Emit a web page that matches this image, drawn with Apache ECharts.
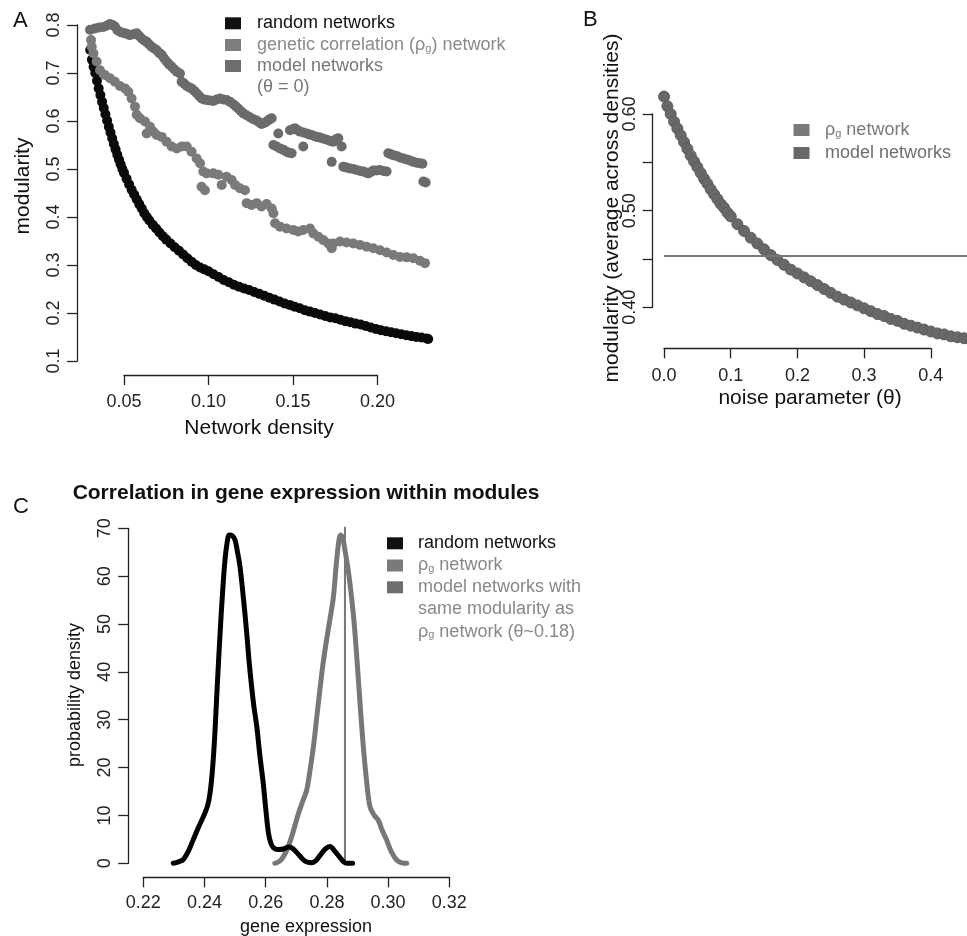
<!DOCTYPE html>
<html>
<head>
<meta charset="utf-8">
<script src="https://cdn.jsdelivr.net/npm/echarts@6/dist/echarts.min.js"></script>
<style>
html,body{margin:0;padding:0;background:#fff;}
#chart{width:967px;height:936px;}
</style>
</head>
<body>
<div id="chart"></div>
<script>
// ---------------- Panel A data (network density vs modularity) ----------------
const densityRandomA = [0.0300,0.0310,0.0320,0.0330,0.0340,0.0350,0.0360,0.0370,0.0380,0.0390,0.0400,0.0410,0.0420,0.0430,0.0440,0.0450,0.0460,0.0470,0.0480,0.0490,0.0500,0.0515,0.0530,0.0545,0.0560,0.0575,0.0590,0.0605,0.0620,0.0635,0.0650,0.0670,0.0690,0.0710,0.0730,0.0750,0.0775,0.0800,0.0825,0.0850,0.0875,0.0900,0.0925,0.0950,0.0975,0.1000,0.1030,0.1060,0.1090,0.1120,0.1150,0.1180,0.1210,0.1240,0.1270,0.1300,0.1330,0.1360,0.1390,0.1420,0.1450,0.1480,0.1510,0.1540,0.1570,0.1600,0.1630,0.1660,0.1690,0.1720,0.1750,0.1780,0.1810,0.1840,0.1870,0.1900,0.1930,0.1960,0.1990,0.2020,0.2050,0.2080,0.2110,0.2140,0.2170,0.2200,0.2230,0.2260,0.2290,0.2300];
const modularityRandomA = [0.748,0.728,0.713,0.700,0.684,0.668,0.654,0.640,0.627,0.614,0.601,0.588,0.576,0.564,0.552,0.541,0.530,0.520,0.510,0.500,0.492,0.480,0.468,0.457,0.447,0.437,0.427,0.418,0.408,0.400,0.393,0.384,0.376,0.368,0.360,0.353,0.345,0.337,0.330,0.322,0.314,0.307,0.300,0.295,0.291,0.287,0.281,0.275,0.269,0.264,0.259,0.255,0.251,0.248,0.244,0.240,0.236,0.232,0.228,0.224,0.220,0.217,0.213,0.210,0.206,0.203,0.200,0.197,0.194,0.191,0.189,0.186,0.183,0.181,0.178,0.176,0.173,0.170,0.167,0.164,0.162,0.160,0.158,0.156,0.154,0.152,0.150,0.149,0.147,0.146];

const densityRhoA = [0.0305,0.0309,0.0319,0.0338,0.0358,0.0387,0.0417,0.0446,0.0476,0.0506,0.0525,0.0545,0.0565,0.0575,0.0594,0.0624,0.0654,0.0634,0.0673,0.0693,0.0723,0.0752,0.0782,0.0812,0.0841,0.0871,0.0900,0.0930,0.0950,0.0969,0.0989,0.0959,0.0979,0.1028,0.1058,0.1078,0.1107,0.1137,0.1157,0.1186,0.1216,0.1226,0.1255,0.1285,0.1314,0.1344,0.1374,0.1384,0.1394,0.1423,0.1462,0.1502,0.1531,0.1561,0.1601,0.1620,0.1650,0.1679,0.1709,0.1729,0.1739,0.1778,0.1817,0.1857,0.1896,0.1936,0.1975,0.2015,0.2054,0.2094,0.2133,0.2173,0.2212,0.2251,0.2281];
const modularityRhoA = [0.769,0.755,0.741,0.724,0.706,0.696,0.689,0.682,0.673,0.668,0.661,0.647,0.630,0.613,0.606,0.599,0.588,0.574,0.578,0.571,0.567,0.557,0.547,0.543,0.547,0.547,0.536,0.522,0.512,0.495,0.491,0.463,0.456,0.491,0.488,0.467,0.484,0.477,0.467,0.460,0.456,0.429,0.425,0.429,0.422,0.427,0.418,0.408,0.387,0.380,0.376,0.373,0.370,0.373,0.376,0.366,0.359,0.352,0.345,0.335,0.345,0.349,0.347,0.345,0.342,0.338,0.335,0.331,0.326,0.321,0.317,0.316,0.314,0.309,0.304];

const densityModelA = [0.0299,0.0328,0.0353,0.0378,0.0400,0.0417,0.0432,0.0446,0.0461,0.0476,0.0491,0.0506,0.0521,0.0535,0.0555,0.0575,0.0590,0.0604,0.0619,0.0634,0.0648,0.0663,0.0678,0.0693,0.0708,0.0723,0.0737,0.0752,0.0767,0.0782,0.0797,0.0812,0.0831,0.0841,0.0856,0.0871,0.0886,0.0900,0.0915,0.0930,0.0945,0.0959,0.0974,0.0989,0.1008,0.1028,0.1048,0.1068,0.1087,0.1107,0.1127,0.1147,0.1161,0.1176,0.1191,0.1206,0.1225,0.1245,0.1265,0.1285,0.1300,0.1314,0.1329,0.1344,0.1359,0.1374,0.1413,0.1384,0.1403,0.1423,0.1443,0.1462,0.1477,0.1492,0.1482,0.1497,0.1512,0.1527,0.1541,0.1561,0.1581,0.1595,0.1610,0.1625,0.1640,0.1655,0.1670,0.1690,0.1709,0.1724,0.1739,0.1754,0.1768,0.1788,0.1561,0.1729,0.1798,0.1817,0.1837,0.1857,0.1877,0.1897,0.1916,0.1931,0.1946,0.1961,0.1975,0.1995,0.2015,0.2035,0.2054,0.2064,0.2079,0.2094,0.2113,0.2133,0.2153,0.2173,0.2192,0.2212,0.2232,0.2251,0.2266,0.2271,0.2285];
const modularityModelA = [0.790,0.793,0.795,0.796,0.799,0.802,0.800,0.797,0.789,0.786,0.784,0.783,0.781,0.779,0.781,0.783,0.777,0.772,0.768,0.765,0.760,0.755,0.751,0.748,0.742,0.738,0.731,0.724,0.718,0.713,0.708,0.703,0.699,0.682,0.678,0.673,0.670,0.668,0.663,0.658,0.652,0.647,0.645,0.644,0.643,0.642,0.645,0.647,0.645,0.644,0.640,0.635,0.631,0.626,0.621,0.616,0.612,0.608,0.604,0.601,0.597,0.594,0.596,0.599,0.603,0.606,0.574,0.550,0.547,0.543,0.540,0.536,0.534,0.533,0.581,0.583,0.585,0.581,0.578,0.576,0.574,0.572,0.571,0.569,0.567,0.566,0.564,0.562,0.560,0.558,0.557,0.562,0.564,0.547,0.547,0.515,0.505,0.503,0.501,0.500,0.498,0.496,0.495,0.493,0.491,0.494,0.497,0.497,0.498,0.496,0.495,0.533,0.531,0.529,0.527,0.524,0.522,0.520,0.518,0.515,0.513,0.512,0.511,0.474,0.472];

const xTicksA = [0.05, 0.10, 0.15, 0.20];
const yTicksA = [0.1, 0.2, 0.3, 0.4, 0.5, 0.6, 0.7, 0.8];

// ---------------- Panel B data (noise parameter vs average modularity) ----------------
const thetaB = [0.000,0.005,0.010,0.015,0.020,0.025,0.030,0.035,0.040,0.045,0.050,0.055,0.060,0.065,0.070,0.075,0.080,0.085,0.090,0.095,0.100,0.110,0.120,0.130,0.140,0.150,0.160,0.170,0.180,0.190,0.200,0.210,0.220,0.230,0.240,0.250,0.260,0.270,0.280,0.290,0.300,0.310,0.320,0.330,0.340,0.350,0.360,0.370,0.380,0.390,0.400,0.410,0.420,0.430,0.440,0.450,0.460];
const modularityModelB = [0.618,0.608,0.600,0.592,0.585,0.578,0.571,0.564,0.557,0.551,0.545,0.539,0.533,0.528,0.522,0.517,0.512,0.507,0.503,0.498,0.494,0.486,0.479,0.472,0.466,0.460,0.454,0.449,0.444,0.439,0.435,0.431,0.427,0.423,0.419,0.415,0.411,0.408,0.405,0.402,0.399,0.396,0.393,0.391,0.388,0.386,0.383,0.381,0.379,0.377,0.375,0.373,0.372,0.370,0.369,0.368,0.366];
const rhoModularityB = 0.453;
const rhoLineThetaB = [0, 0.5];
const xTicksB = [0.0, 0.1, 0.2, 0.3, 0.4];
const yTicksB = [0.40, 0.45, 0.50, 0.55, 0.60];
const yLabelsB = ['0.40', '0.50', '0.60'];

// ---------------- Panel C data (within-module correlation density) ----------------
const exprRandomC = [0.2298,0.2315,0.2331,0.2347,0.2363,0.2380,0.2396,0.2410,0.2418,0.2426,0.2434,0.2442,0.2451,0.2459,0.2467,0.2474,0.2481,0.2490,0.2500,0.2508,0.2516,0.2527,0.2538,0.2546,0.2554,0.2562,0.2571,0.2581,0.2592,0.2600,0.2609,0.2617,0.2625,0.2640,0.2658,0.2675,0.2690,0.2712,0.2730,0.2750,0.2765,0.2777,0.2795,0.2810,0.2825,0.2843,0.2855,0.2865,0.2884];
const densRandomC = [0.0,0.3,0.8,2.5,4.9,7.5,9.7,12.0,14.6,19.5,27.2,37.5,48.1,56.5,63.4,67.0,68.6,68.5,67.5,65.0,62.0,55.5,48.1,42.0,36.9,32.5,28.5,22.5,16.7,11.5,6.3,4.2,3.3,2.9,3.0,3.4,3.0,1.5,0.4,0.1,0.6,1.6,3.0,3.5,2.6,1.2,0.3,0.0,0.0];
const exprModelC = [0.2630,0.2645,0.2658,0.2672,0.2685,0.2696,0.2707,0.2720,0.2734,0.2745,0.2756,0.2766,0.2777,0.2788,0.2799,0.2810,0.2821,0.2830,0.2838,0.2845,0.2852,0.2860,0.2868,0.2878,0.2888,0.2896,0.2903,0.2911,0.2919,0.2930,0.2941,0.2955,0.2968,0.2980,0.2995,0.3010,0.3028,0.3045,0.3061];
const densModelC = [0.0,0.4,1.4,3.2,5.6,8.0,10.4,12.8,15.3,19.5,24.4,30.0,36.2,42.0,46.7,51.0,55.5,62.0,66.8,68.6,68.0,65.0,62.0,57.0,51.0,44.5,38.3,31.0,24.4,17.0,11.8,10.0,9.0,7.0,4.9,2.5,0.7,0.1,0.0];
const rhoExprC = 0.2859;
const rhoLineDensC = [0, 70.3];
const xTicksC = [0.22, 0.24, 0.26, 0.28, 0.30, 0.32];
const yTicksC = [0, 10, 20, 30, 40, 50, 60, 70];

// ---------------- styling ----------------
const FONT = "'Liberation Sans', Arial, Helvetica, sans-serif";
const AXC = '#222';
const zip = (a, b) => a.map((v, i) => [v, b[i]]);

function hiddenAxis(gi, min, max) {
  return { gridIndex: gi, type: 'value', min: min, max: max, show: false };
}
function visAxis(gi, ticks, pos, offset, margin, fmt, rotate) {
  return {
    gridIndex: gi, type: 'value', position: pos, offset: offset,
    min: ticks[0], max: ticks[ticks.length - 1], interval: ticks[1] - ticks[0],
    axisLine: { show: true, onZero: false, lineStyle: { color: AXC, width: 1.3 } },
    axisTick: { show: true, length: 10, lineStyle: { color: AXC, width: 1.3 } },
    splitLine: { show: false },
    axisLabel: { show: true, fontSize: 18, color: AXC, fontFamily: FONT, margin: margin,
      rotate: rotate || 0, formatter: fmt, hideOverlap: false, showMinLabel: true, showMaxLabel: true }
  };
}

const chart = echarts.init(document.getElementById('chart'), null, { renderer: 'canvas' });

function txt(x, y, text, size, color, opts) {
  opts = opts || {};
  return {
    type: 'text', x: x, y: y, rotation: opts.rot || 0, silent: true,
    style: {
      text: text, fontSize: size, fontFamily: FONT, fontWeight: opts.bold ? 'bold' : 'normal',
      fill: color, align: opts.align || 'left', verticalAlign: 'middle',
      rich: { sub: { fontSize: 11, fontFamily: FONT, fill: color, verticalAlign: 'bottom' } }
    }
  };
}
function key(x, y, color) {
  return { type: 'rect', silent: true, shape: { x: x, y: y - 6, width: 16, height: 12 }, style: { fill: color } };
}

const option = {
  backgroundColor: '#ffffff',
  animation: false,
  grid: [
    { left: 76.7, top: 11.6, width: 365, height: 362.9 },     // 0 A data
    { left: 124, top: 25, width: 253.5, height: 336 },        // 1 A axes
    { left: 652.7, top: 85, width: 314.3, height: 263.3 },    // 2 B data (to right edge)
    { left: 664, top: 114, width: 266.8, height: 193.3 },     // 3 B axes
    { left: 128.3, top: 515, width: 351.6, height: 362.3 },   // 4 C data
    { left: 143.3, top: 528.3, width: 306, height: 335 }      // 5 C axes
  ],
  xAxis: [
    hiddenAxis(0, 0.022, 0.238),
    visAxis(1, xTicksA, 'bottom', 14, 18, v => v.toFixed(2)),
    hiddenAxis(2, -0.017, 0.4543),
    visAxis(3, xTicksB, 'bottom', 41, 19, v => v.toFixed(1)),
    hiddenAxis(4, 0.2151, 0.33),
    visAxis(5, xTicksC, 'bottom', 14, 17, v => v.toFixed(2))
  ],
  yAxis: [
    hiddenAxis(0, 0.072, 0.828),
    visAxis(1, yTicksA, 'left', 47, 14, v => v.toFixed(1), 90),
    hiddenAxis(2, 0.3576, 0.63),
    visAxis(3, yTicksB, 'left', 11.3, 14, v => { const s = v.toFixed(2); return yLabelsB.indexOf(s) >= 0 ? s : ''; }, 90),
    hiddenAxis(4, -2.925, 72.77),
    visAxis(5, yTicksC, 'left', 15, 14, v => String(Math.round(v)), 90)
  ],
  series: [
    { type: 'scatter', xAxisIndex: 0, yAxisIndex: 0, clip: false, silent: true,
      data: zip(densityRandomA, modularityRandomA), symbolSize: 10, itemStyle: { color: '#0a0a0a', opacity: 1 } },
    { type: 'scatter', xAxisIndex: 0, yAxisIndex: 0, clip: false, silent: true,
      data: zip(densityRhoA, modularityRhoA), symbolSize: 10, itemStyle: { color: '#7a7a7a', opacity: 1 } },
    { type: 'scatter', xAxisIndex: 0, yAxisIndex: 0, clip: false, silent: true,
      data: zip(densityModelA, modularityModelA), symbolSize: 10, itemStyle: { color: '#6b6b6b', opacity: 1 } },

    { type: 'line', xAxisIndex: 2, yAxisIndex: 2, clip: false, silent: true, showSymbol: false,
      data: rhoLineThetaB.map(t => [t, rhoModularityB]), lineStyle: { color: '#777', width: 2 } },
    { type: 'scatter', xAxisIndex: 2, yAxisIndex: 2, clip: false, silent: true,
      data: zip(thetaB, modularityModelB), symbolSize: 11,
      itemStyle: { color: '#686868', borderColor: '#5e5e5e', borderWidth: 1, opacity: 1 } },

    { type: 'line', xAxisIndex: 4, yAxisIndex: 4, clip: false, silent: true, showSymbol: false, smooth: 0.35,
      data: zip(exprModelC, densModelC), lineStyle: { color: '#777', width: 5, cap: 'round', join: 'round' } },
    { type: 'line', xAxisIndex: 4, yAxisIndex: 4, clip: false, silent: true, showSymbol: false,
      data: rhoLineDensC.map(d => [rhoExprC, d]), lineStyle: { color: '#777', width: 2 } },
    { type: 'line', xAxisIndex: 4, yAxisIndex: 4, clip: false, silent: true, showSymbol: false, smooth: 0.35,
      data: zip(exprRandomC, densRandomC), lineStyle: { color: '#000', width: 5, cap: 'round', join: 'round' } }
  ],
  graphic: [
    // panel letters
    txt(13, 21, 'A', 22, '#111'),
    txt(583, 20, 'B', 22, '#111'),
    txt(13, 507, 'C', 22, '#111'),
    // Panel A titles
    txt(23, 186, 'modularity', 21, '#111', { align: 'center', rot: Math.PI / 2 }),
    txt(259, 428, 'Network density', 21, '#111', { align: 'center' }),
    // Panel A legend
    key(225, 23.3, '#111'), txt(257, 23.3, 'random networks', 18, '#111'),
    key(225, 45, '#7d7d7d'), txt(257, 45, 'genetic correlation (ρ{sub|g}) network', 18, '#8a8a8a'),
    key(225, 66, '#6e6e6e'), txt(257, 66, 'model networks', 18, '#777'),
    txt(257, 87.3, '(θ = 0)', 18, '#777'),
    // Panel B titles
    txt(612, 208, 'modularity (average across densities)', 21, '#111', { align: 'center', rot: Math.PI / 2 }),
    txt(810, 398, 'noise parameter (θ)', 21, '#111', { align: 'center' }),
    // Panel B legend
    key(793.5, 130, '#7a7a7a'), txt(825, 130, 'ρ{sub|g} network', 18, '#7a7a7a'),
    key(793.5, 153, '#686868'), txt(825, 153, 'model networks', 18, '#6e6e6e'),
    // Panel C titles
    txt(306, 493, 'Correlation in gene expression within modules', 21, '#111', { align: 'center', bold: true }),
    txt(75, 695, 'probability density', 18, '#111', { align: 'center', rot: Math.PI / 2 }),
    txt(306, 927, 'gene expression', 18, '#111', { align: 'center' }),
    // Panel C legend
    key(387, 543.3, '#111'), txt(418, 543.3, 'random networks', 18, '#111'),
    key(387, 565.5, '#7a7a7a'), txt(418, 565.5, 'ρ{sub|g} network', 18, '#888'),
    key(387, 587.3, '#6e6e6e'), txt(418, 587.3, 'model networks with', 18, '#888'),
    txt(418, 609.5, 'same modularity as', 18, '#888'),
    txt(418, 631.7, 'ρ{sub|g} network (θ~0.18)', 18, '#888')
  ]
};
chart.setOption(option);
</script>
</body>
</html>
